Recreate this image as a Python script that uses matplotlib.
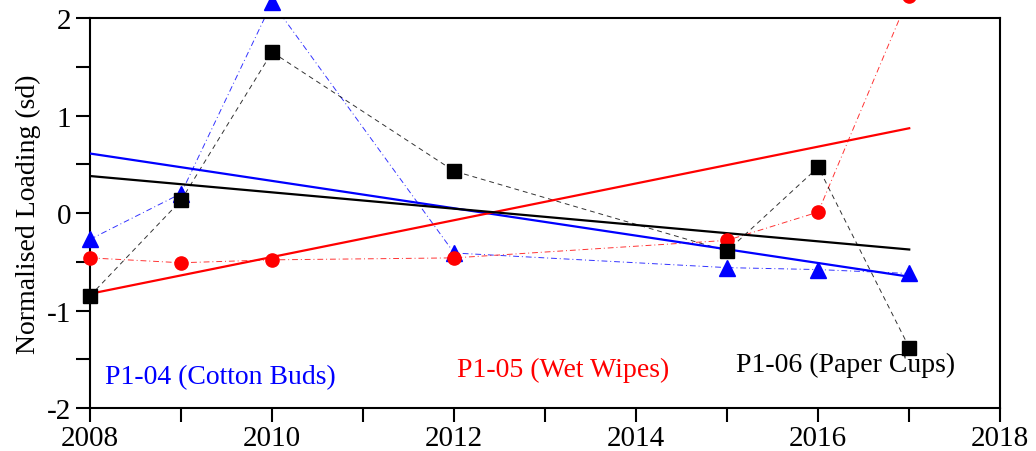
import numpy as np
import matplotlib
matplotlib.use("Agg")
import matplotlib.pyplot as plt
from matplotlib.ticker import MultipleLocator

years = [2008, 2009, 2010, 2012, 2015, 2016, 2017]
cotton_buds = [-0.27, 0.20, 2.16, -0.41, -0.56, -0.58, -0.62]
wet_wipes = [-0.46, -0.51, -0.48, -0.46, -0.28, 0.01, 2.23]
paper_cups = [-0.85, 0.13, 1.65, 0.43, -0.39, 0.47, -1.38]
labels = ["P1-04 (Cotton Buds)", "P1-05 (Wet Wipes)", "P1-06 (Paper Cups)"]

plt.rcParams['font.family'] = ['Liberation Serif', 'DejaVu Serif']
plt.rcParams['axes.unicode_minus'] = False

fig = plt.figure(figsize=(10.36, 4.52), dpi=100)
ax = fig.add_axes([0.0869, 0.095, 0.8786, 0.863])

x = np.array(years, dtype=float)
series = [
    (cotton_buds, 'blue', '^', (0, (6, 3, 1, 3)), 12),
    (wet_wipes, 'red', 'o', (0, (6, 3, 1, 3)), 9.5),
    (paper_cups, 'black', 's', (0, (5, 4)), 10),
]
for vals, col, mk, ls, ms in series:
    ax.plot(x, vals, color=col, lw=0.7, ls=ls, alpha=0.8, zorder=2)
    ax.plot(x, vals, color=col, lw=0, marker=mk, ms=ms, clip_on=False, zorder=4)
    k, b = np.polyfit(x, vals, 1)
    ax.plot([x[0], x[-1]], [k * x[0] + b, k * x[-1] + b], color=col, lw=1.6, zorder=3)

ax.text(2008.16, -1.68, labels[0], color='blue', fontsize=20, va='center')
ax.text(2012.03, -1.60, labels[1], color='red', fontsize=20, va='center')
ax.text(2015.1, -1.55, labels[2], color='black', fontsize=20, va='center')

ax.set_xlim(2008, 2018)
ax.set_ylim(-2, 2)
ax.xaxis.set_major_locator(MultipleLocator(2))
ax.xaxis.set_minor_locator(MultipleLocator(1))
ax.yaxis.set_major_locator(MultipleLocator(1))
ax.yaxis.set_minor_locator(MultipleLocator(0.5))
ax.tick_params(which='both', direction='out', length=10, width=1.5, labelsize=21)
ax.tick_params(axis='x', pad=2)
ax.tick_params(right=False, top=False)
for s in ax.spines.values():
    s.set_linewidth(1.5)
ax.set_ylabel("Normalised Loading (sd)", fontsize=20, labelpad=4)

fig.savefig("out.png", dpi=100)
